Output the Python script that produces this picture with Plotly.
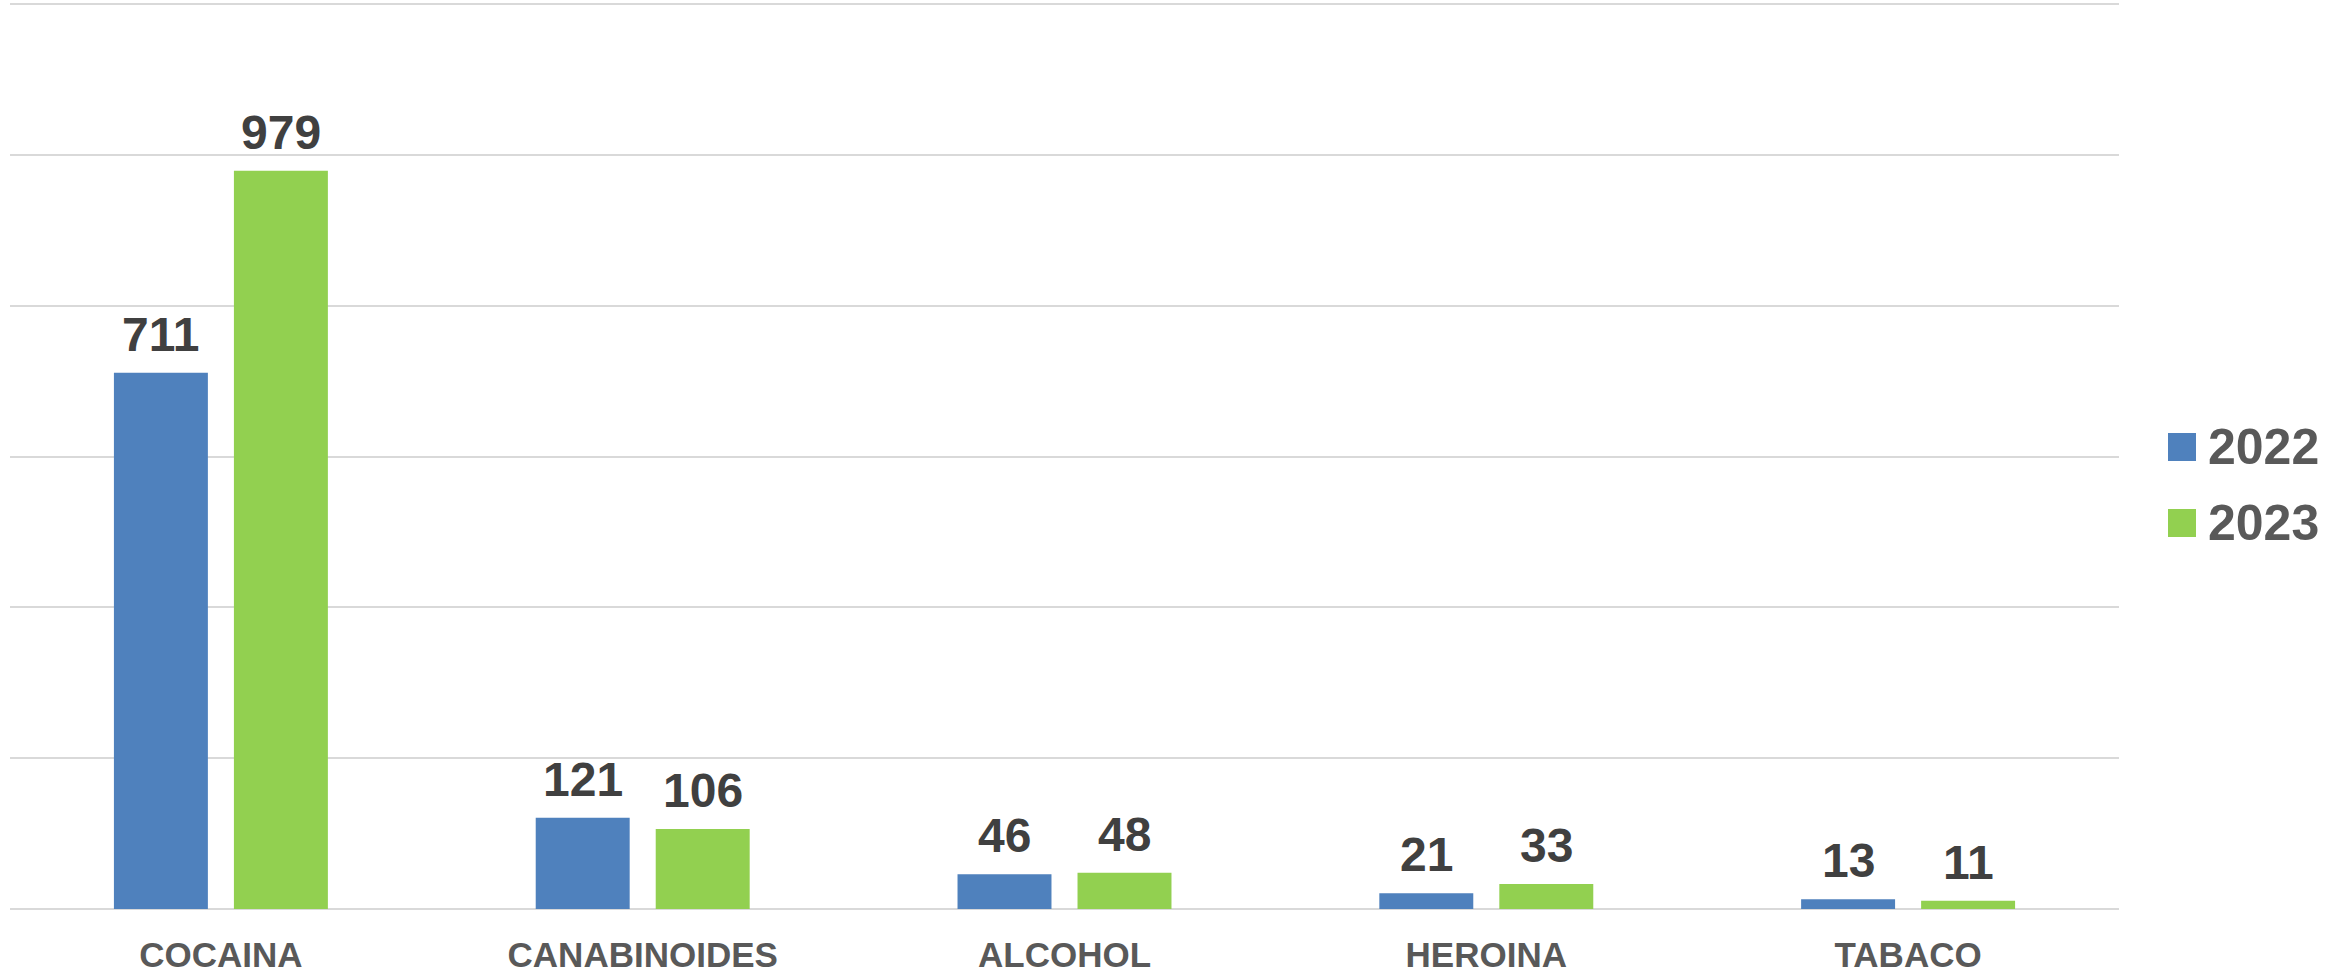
import plotly.graph_objects as go

categories = ["COCAINA", "CANABINOIDES", "ALCOHOL", "HEROINA", "TABACO"]
series_names = ["2022", "2023"]
values_2022 = [711, 121, 46, 21, 13]
values_2023 = [979, 106, 48, 33, 11]
colors = ["#4F81BD", "#92D050"]

W, H = 2351, 974
ML, MR, MT, MB = 10, 232, 3, 65
BARGAP = 0.431
GROUPGAP = 0.217
FONT = "Liberation Sans, Arial, sans-serif"

fig = go.Figure()
series = [values_2022, values_2023]
for name, vals, col in zip(series_names, series, colors):
    fig.add_trace(go.Bar(
        x=categories, y=vals, name=name, marker_color=col,
        marker_line_width=0, showlegend=False,
    ))

# data labels
slot = (1 - BARGAP) / 2
for si, vals in enumerate(series):
    off = (si - 0.5) * slot
    for ci, v in enumerate(vals):
        fig.add_annotation(
            x=ci + off, y=v, xref="x", yref="y", text=str(v),
            showarrow=False, yanchor="bottom", yshift=10,
            font=dict(family=FONT, size=48, color="#404040", weight="bold"),
        )

# manual legend
plot_w = W - ML - MR
plot_h = H - MT - MB
leg_y = [447, 523]
for name, col, yc in zip(series_names, colors, leg_y):
    ypaper = (H - MB - yc) / plot_h
    fig.add_shape(
        type="rect", xref="paper", yref="paper",
        xsizemode="pixel", ysizemode="pixel",
        xanchor=(2182 - ML) / plot_w, yanchor=ypaper,
        x0=-14, x1=14, y0=-14, y1=14,
        fillcolor=col, line_width=0,
    )
    fig.add_annotation(
        x=(2206 - ML) / plot_w, y=ypaper, xref="paper", yref="paper",
        text=name, showarrow=False, xanchor="left", yanchor="middle",
        font=dict(family=FONT, size=50, color="#595959", weight="bold"),
    )

fig.update_layout(
    width=W, height=H,
    margin=dict(l=ML, r=MR, t=MT, b=MB, autoexpand=False),
    barmode="group", bargap=BARGAP, bargroupgap=GROUPGAP,
    plot_bgcolor="white", paper_bgcolor="white",
    font=dict(family=FONT),
)
fig.update_xaxes(
    tickfont=dict(family=FONT, size=35, color="#595959", weight="bold"),
    showgrid=False, showline=False, ticks="", ticklabelstandoff=22,
    automargin=False,
)
fig.update_yaxes(
    range=[0, 1201.5], tickvals=[200, 400, 600, 800, 1000, 1200],
    showticklabels=False, automargin=False,
    showgrid=True, gridcolor="#D9D9D9", gridwidth=2,
    zeroline=True, zerolinecolor="#D9D9D9", zerolinewidth=2,
)

fig.write_html(
    "out.html",
    config={"displayModeBar": False},
    post_script="document.body.style.margin='0px';document.body.style.overflow='hidden';",
)
